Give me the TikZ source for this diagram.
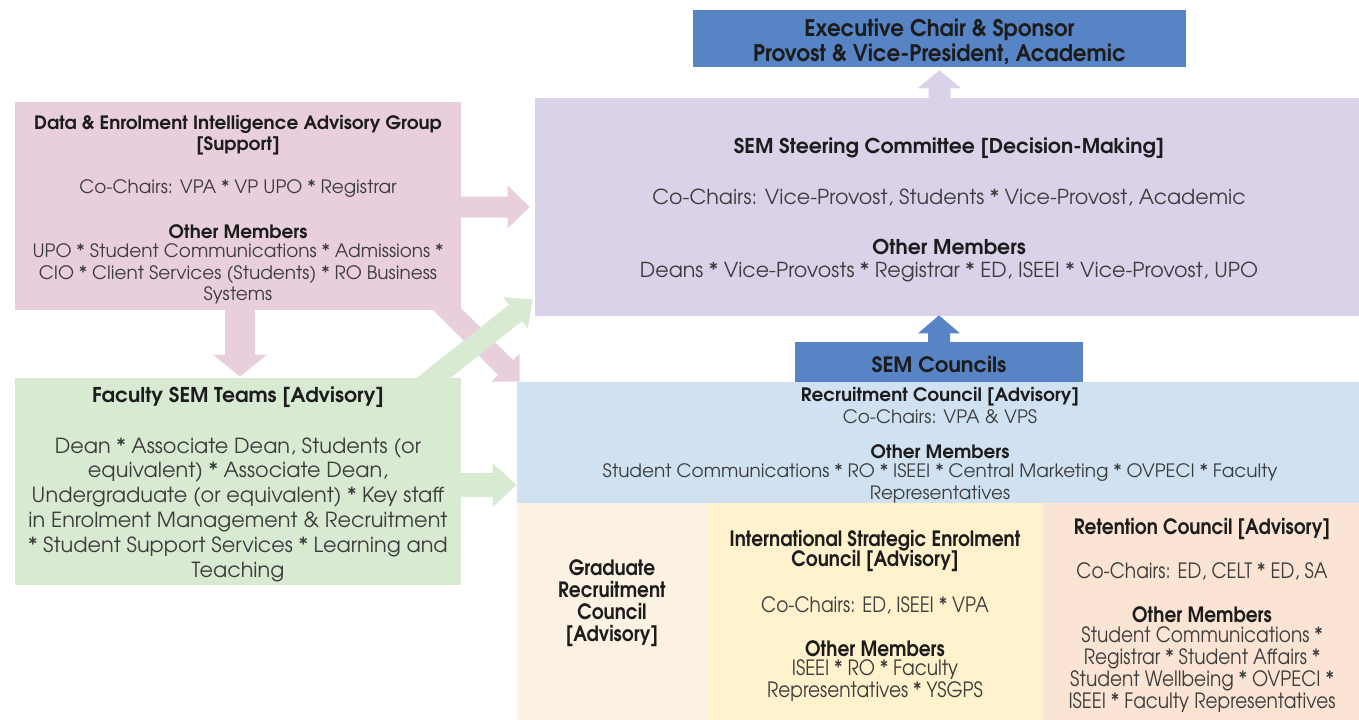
\documentclass[tikz,border=0pt]{standalone}
\usepackage{fontspec}
\setmainfont{TeX Gyre Adventor}
\newfontfamily\condfont[FakeStretch=0.88]{TeX Gyre Adventor}
\newfontfamily\headfont[FakeStretch=0.94]{TeX Gyre Adventor}
\usetikzlibrary{calc,fit}

\definecolor{execblue}{HTML}{5784C4}
\definecolor{lavender}{HTML}{D9D2E9}
\definecolor{pinkbox}{HTML}{E8CFDB}
\definecolor{greenbox}{HTML}{D9EAD3}
\definecolor{bluebox}{HTML}{D0E2F2}
\definecolor{beigebox}{HTML}{FCF2E3}
\definecolor{yellowbox}{HTML}{FFF2CC}
\definecolor{peachbox}{HTML}{FBE4D4}
\definecolor{titlec}{HTML}{1C1C1C}
\definecolor{bodyc}{HTML}{3C3C3C}

% block arrow: colour, start, tip, shaft half-width, head half-width, head length
\newcommand{\blockarrow}[6]{%
  \coordinate (bahead) at ($(#3)!#6!(#2)$);
  \fill[#1] ($(#2)!#4!90:(#3)$) -- ($(bahead)!#4!90:(#3)$) -- ($(bahead)!#5!90:(#3)$)
    -- (#3) -- ($(bahead)!#5!-90:(#3)$) -- ($(bahead)!#4!-90:(#3)$)
    -- ($(#2)!#4!-90:(#3)$) -- cycle;
}

\tikzset{
  box/.style={inner sep=0pt, draw=none, fill=#1},
  ttl/.style 2 args={font=\bfseries\fontsize{#1}{#2}\selectfont, text=titlec, align=center, inner sep=0pt},
  txt/.style 2 args={font=\fontsize{#1}{#2}\selectfont, text=bodyc, align=center, inner sep=0pt},
  cttl/.style 2 args={font=\condfont\bfseries\fontsize{#1}{#2}\selectfont, text=titlec, align=center, inner sep=0pt},
  ctxt/.style 2 args={font=\condfont\fontsize{#1}{#2}\selectfont, text=bodyc, align=center, inner sep=0pt},
  httl/.style 2 args={font=\headfont\bfseries\fontsize{#1}{#2}\selectfont, text=titlec, align=center, inner sep=0pt},
}

\begin{document}
\begin{tikzpicture}[x=0.02cm, y=-0.02cm]
\useasboundingbox (0,0) rectangle (1359,720);

% ---- boxes ----
\node[box=execblue, fit={(693,10)(1186,67)}] (exec) {};
\node[box=lavender, fit={(535,98)(1359,316)}] (steer) {};
\node[box=pinkbox, fit={(15,102)(461,310)}] (data) {};
\node[box=greenbox, fit={(15,378)(461,585)}] (faculty) {};
\node[box=bluebox, fit={(517,382)(1359,503)}] (recruit) {};
\node[box=beigebox, fit={(517,503)(708,720)}] (grad) {};
\node[box=yellowbox, fit={(708,503)(1043,720)}] (intl) {};
\node[box=peachbox, fit={(1043,503)(1359,720)}] (retain) {};
\node[box=execblue, fit={(795,342)(1083,382)}] (councils) {};

% ---- block arrows ----
\coordinate (a1s) at ($(data.east)+(-2,1)$);
\coordinate (a1e) at ($(steer.west |- data.east)+(-5,1)$);
\blockarrow{pinkbox}{a1s}{a1e}{0.21cm}{0.43cm}{0.44cm}

\coordinate (a2s) at ($(data.south)+(2,-2)$);
\coordinate (a2e) at ($(faculty.north)+(2,-1)$);
\blockarrow{pinkbox}{a2s}{a2e}{0.30cm}{0.54cm}{0.44cm}

\coordinate (a3s) at ($(data.south east)+(-31,-18)$);
\coordinate (a3e) at ($(recruit.north west)+(3,0)$);
\blockarrow{pinkbox}{a3s}{a3e}{0.21cm}{0.40cm}{0.40cm}

\coordinate (a4s) at ($(faculty.north east)+(-40,10)$);
\coordinate (a4e) at ($(steer.south west)+(-2,-17)$);
\blockarrow{greenbox}{a4s}{a4e}{0.21cm}{0.40cm}{0.44cm}

\coordinate (a5s) at ($(faculty.east)+(-2,3.5)$);
\coordinate (a5e) at ($(faculty.east -| recruit.west)+(0,3.5)$);
\blockarrow{greenbox}{a5s}{a5e}{0.24cm}{0.44cm}{0.48cm}

\coordinate (a6s) at ($(exec.south |- steer.north)+(0,2)$);
\coordinate (a6e) at ($(exec.south)+(0,3)$);
\blockarrow{lavender}{a6s}{a6e}{0.22cm}{0.44cm}{0.36cm}

\coordinate (a7s) at ($(councils.north)+(0,2)$);
\coordinate (a7e) at ($(councils.north |- steer.south)+(0,-1)$);
\blockarrow{execblue}{a7s}{a7e}{0.22cm}{0.42cm}{0.36cm}

% ---- texts ----
\begin{scope}[yshift=-0.05cm]
\node[httl={13}{14.2}] (execT) at (939.5,39.5) {Executive Chair \& Sponsor\\Provost \& Vice-President, Academic};

\node[ttl={10.5}{12.2}] (dataT) at (238,132.5) {Data \& Enrolment Intelligence Advisory Group\\{}[Support]};
\node[txt={10.5}{12.2}] (dataC) at (238,186) {Co-Chairs: VPA * VP UPO * Registrar};
\node[ttl={10.5}{12.2}] (dataO) at (238,229) {Other Members};
\node[txt={10.5}{12.2}] (dataM) at (238,271.5) {UPO * Student Communications * Admissions *\\CIO * Client Services (Students) * RO Business\\Systems};

\node[ttl={11.6}{14}] (steerT) at (949,146) {SEM Steering Committee [Decision-Making]};
\node[txt={11.75}{14}] (steerC) at (949,195) {Co-Chairs: Vice-Provost, Students * Vice-Provost, Academic};
\node[ttl={11.6}{14}] (steerO) at (949,244) {Other Members};
\node[txt={11.75}{14}] (steerM) at (949,269) {Deans * Vice-Provosts * Registrar * ED, ISEEI * Vice-Provost, UPO};

\node[ttl={11.6}{14}] (facT) at (238,395) {Faculty SEM Teams [Advisory]};
\node[txt={11.85}{14.1}] (facM) at (238,507) {Dean * Associate Dean, Students (or\\equivalent) * Associate Dean,\\Undergraduate (or equivalent) * Key staff\\in Enrolment Management \& Recruitment\\* Student Support Services * Learning and\\Teaching};

\node[ttl={12}{14}] (councilsT) at (939,362) {SEM Councils};

\node[ttl={10.5}{12.5}] (recT) at (940,394) {Recruitment Council [Advisory]};
\node[txt={10.5}{12.5}] (recC) at (940,414) {Co-Chairs: VPA \& VPS};
\node[ttl={10.5}{12.5}] (recO) at (940,449) {Other Members};
\node[txt={10.5}{12.5}] (recM) at (940,481) {Student Communications * RO * ISEEI * Central Marketing * OVPECI * Faculty\\Representatives};

\node[cttl={12}{12.5}] (gradT) at (612,601) {Graduate\\Recruitment\\Council\\{}[Advisory]};

\node[cttl={12}{11.9}] (intlT) at (875,548.5) {International Strategic Enrolment\\Council [Advisory]};
\node[ctxt={12}{12.5}] (intlC) at (875,603) {Co-Chairs: ED, ISEEI * VPA};
\node[cttl={12}{12.5}] (intlO) at (875,646) {Other Members};
\node[ctxt={12}{12.5}] (intlM) at (875,678) {ISEEI * RO * Faculty\\Representatives * YSGPS};

\node[cttl={12}{12.5}] (retT) at (1202,527) {Retention Council [Advisory]};
\node[ctxt={12}{12.5}] (retC) at (1202,569) {Co-Chairs: ED, CELT * ED, SA};
\node[cttl={12}{12.5}] (retO) at (1202,612) {Other Members};
\node[ctxt={12}{12.5}] (retM) at (1202,667) {Student Communications *\\Registrar * Student Affairs *\\Student Wellbeing * OVPECI *\\ISEEI * Faculty Representatives};
\end{scope}
\end{tikzpicture}
\end{document}
